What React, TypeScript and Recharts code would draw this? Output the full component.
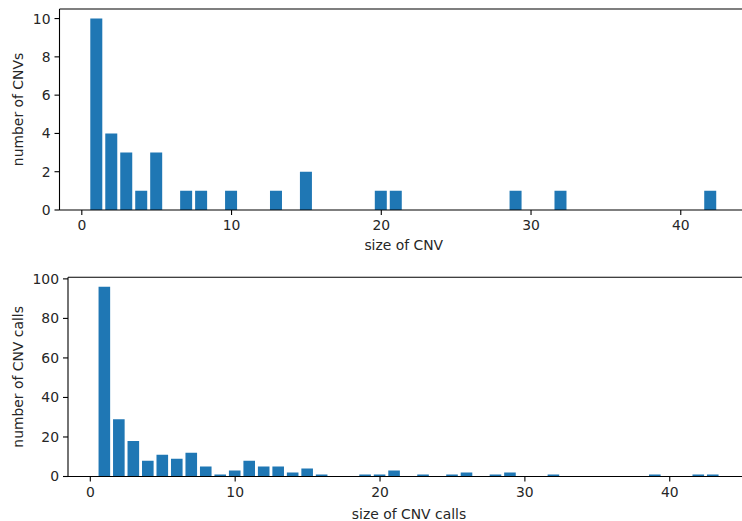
import React from 'react';
import { BarChart, Bar, XAxis, YAxis, ReferenceLine } from 'recharts';

// Top panel: CNV sizes and counts
const cnvSizes = [1, 2, 3, 4, 5, 7, 8, 10, 13, 15, 20, 21, 29, 32, 42];
const cnvCounts = [10, 4, 3, 1, 3, 1, 1, 1, 1, 2, 1, 1, 1, 1, 1];

// Bottom panel: CNV call sizes and counts
const callSizes = [1, 2, 3, 4, 5, 6, 7, 8, 9, 10, 11, 12, 13, 14, 15, 16, 19, 20, 21, 23, 25, 26, 28, 29, 32, 39, 42, 43];
const callCounts = [96, 29, 18, 8, 11, 9, 12, 5, 1, 3, 8, 5, 5, 2, 4, 1, 1, 1, 3, 1, 1, 2, 1, 2, 1, 1, 1, 1];

const xTicks = [0, 10, 20, 30, 40];
const topYTicks = [0, 2, 4, 6, 8, 10];
const bottomYTicks = [0, 20, 40, 60, 80, 100];

const topData = cnvSizes.map((s, i) => ({ size: s, count: cnvCounts[i] }));
const bottomData = callSizes.map((s, i) => ({ size: s, count: callCounts[i] }));

const FONT = 'DejaVu Sans';
const FS = 13.9;
const TXT = '#262626';
const BLUE = '#1f77b4';

const tickStyle = { fill: TXT, fontSize: FS, fontFamily: FONT };
const labelStyle = { fill: TXT, fontSize: FS, fontFamily: FONT };

function Panel(props: {
  data: { size: number; count: number }[];
  width: number;
  height: number;
  margin: { top: number; right: number; left: number; bottom: number };
  yWidth: number;
  xHeight: number;
  xDomain: [number, number];
  yDomain: [number, number];
  yTicks: number[];
  barSize: number;
  xLabel: string;
  yLabel: string;
  xLabelOffset: number;
}) {
  const p = props;
  return (
    <BarChart width={p.width} height={p.height} data={p.data} margin={p.margin}>
      <XAxis
        dataKey="size"
        type="number"
        domain={p.xDomain}
        allowDataOverflow
        ticks={xTicks}
        interval={0}
        height={p.xHeight}
        tick={tickStyle}
        tickSize={5}
        tickMargin={5.5}
        stroke="#000"
        axisLine={{ stroke: '#000', strokeWidth: 1.1 }}
        tickLine={{ stroke: '#000', strokeWidth: 1.1 }}
        label={{ value: p.xLabel, position: 'insideBottom', offset: p.xLabelOffset, style: labelStyle }}
      />
      <YAxis
        type="number"
        domain={p.yDomain}
        allowDataOverflow
        ticks={p.yTicks}
        interval={0}
        width={p.yWidth}
        tick={tickStyle}
        tickSize={5}
        tickMargin={4}
        axisLine={{ stroke: '#000', strokeWidth: 1.1 }}
        tickLine={{ stroke: '#000', strokeWidth: 1.1 }}
        label={{
          value: p.yLabel,
          angle: -90,
          position: 'insideLeft',
          offset: 18,
          style: { ...labelStyle, textAnchor: 'middle' },
        }}
      />
      <ReferenceLine y={p.yDomain[1]} stroke="#000" strokeWidth={1.1} />
      <Bar dataKey="count" fill={BLUE} barSize={p.barSize} isAnimationActive={false} />
    </BarChart>
  );
}

export default function App() {
  return (
    <div
      style={{
        position: 'absolute',
        left: 0,
        top: 0,
        width: 742,
        height: 521,
        overflow: 'hidden',
        background: '#fff',
      }}
    >
      <div style={{ position: 'absolute', left: 0, top: 0 }}>
        <Panel
          data={topData}
          width={770}
          height={260}
          margin={{ top: 9, right: 22, left: 0, bottom: 0 }}
          yWidth={59.5}
          xHeight={50}
          xDomain={[-1.49, 44.49]}
          yDomain={[0, 10.5]}
          yTicks={topYTicks}
          barSize={12}
          xLabel="size of CNV"
          yLabel="number of CNVs"
          xLabelOffset={10}
        />
      </div>
      <div style={{ position: 'absolute', left: 0, top: 260 }}>
        <Panel
          data={bottomData}
          width={770}
          height={261}
          margin={{ top: 17.3, right: 20, left: 0, bottom: 0 }}
          yWidth={68}
          xHeight={44.5}
          xDomain={[-1.54, 45.54]}
          yDomain={[0, 100.8]}
          yTicks={bottomYTicks}
          barSize={11.6}
          xLabel="size of CNV calls"
          yLabel="number of CNV calls"
          xLabelOffset={2}
        />
      </div>
    </div>
  );
}
